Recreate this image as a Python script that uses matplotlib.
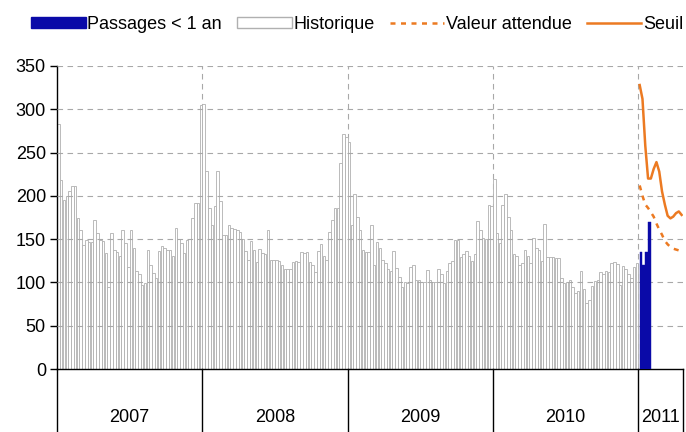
import numpy as np
import matplotlib
matplotlib.use("Agg")
import matplotlib.pyplot as plt
import matplotlib.transforms as mtransforms
from matplotlib.patches import Patch
from matplotlib.lines import Line2D

plt.rcParams['font.family'] = ['Liberation Sans', 'DejaVu Sans']

# weekly counts
years = ['2007', '2008', '2009', '2010', '2011']
hist_2007 = [283, 218, 195, 200, 206, 211, 211, 174, 160, 143, 149, 147, 147, 172, 157, 149,
             148, 134, 95, 157, 138, 135, 130, 161, 145, 118, 161, 140, 113, 110, 97, 99,
             138, 120, 111, 105, 136, 142, 140, 138, 137, 131, 163, 150, 146, 134, 149, 150,
             174, 192, 192, 305]
hist_2008 = [306, 229, 186, 166, 188, 229, 194, 155, 155, 166, 163, 162, 161, 158, 150, 136,
             126, 148, 138, 124, 139, 134, 133, 161, 126, 126, 126, 125, 120, 116, 116, 116,
             124, 125, 124, 135, 134, 135, 124, 120, 112, 136, 144, 130, 126, 158, 172, 186,
             186, 238, 272, 268]
hist_2009 = [262, 166, 202, 176, 160, 137, 135, 135, 166, 120, 147, 140, 126, 122, 116, 113,
             136, 117, 106, 95, 100, 99, 118, 120, 103, 103, 101, 101, 114, 103, 101, 101,
             115, 110, 99, 113, 123, 125, 149, 149, 129, 133, 136, 130, 125, 133, 171, 161,
             151, 150, 190, 188]
hist_2010 = [219, 157, 146, 190, 202, 176, 161, 133, 130, 120, 122, 138, 131, 123, 151, 140,
             138, 125, 168, 129, 129, 129, 128, 128, 105, 99, 100, 103, 95, 88, 90, 113,
             92, 76, 80, 96, 102, 103, 112, 110, 113, 112, 123, 124, 121, 97, 119, 115,
             110, 105, 118, 123]
weeks_2011 = 16
passages_2011 = [135, 120, 135, 170]
attendu_2011 = [212, 200, 190, 186, 181, 176, 168, 161, 155, 148, 144, 141, 139, 138, 137, 137]
seuil_2011 = [328, 312, 258, 220, 220, 231, 239, 228, 205, 190, 177, 174, 176, 180, 182, 178]

hist = hist_2007 + hist_2008 + hist_2009 + hist_2010
year_sizes = [len(hist_2007), len(hist_2008), len(hist_2009), len(hist_2010), weeks_2011]
n_total = sum(year_sizes)
start_2011 = len(hist)

blue = '#0a0aa8'
orange = '#ec7a22'
grid_c = '#a8a8a8'
fs = 13

fig = plt.figure(figsize=(6.86, 4.32), dpi=100)
ax = fig.add_axes([57 / 686, 63 / 432, 626 / 686, 303 / 432])

bounds = np.cumsum([0] + year_sizes) - 0.5

# year separators inside the plot
for b in bounds[1:-1]:
    ax.axvline(b, color=grid_c, lw=0.8, ls=(0, (5, 4)), zorder=1)

ax.bar(np.arange(len(hist)), hist, width=0.9, color='white', edgecolor='#b0b0b0',
       linewidth=0.6, zorder=2)
ax.bar(start_2011 + np.arange(len(passages_2011)), passages_2011, width=1.0, align='edge',
       color=blue, edgecolor=blue, linewidth=0.3, zorder=4)

x11 = start_2011 + np.arange(weeks_2011)
dash = (0, (2, 2.2))
ax.plot(x11, attendu_2011, color=orange, lw=1.8, ls=dash, zorder=5)
ax.plot(x11, seuil_2011, color=orange, lw=1.8, zorder=5)

ax.set_ylim(0, 350)
ax.set_xlim(-0.5, n_total - 0.5)
ax.set_yticks(np.arange(0, 351, 50))
for yv in range(50, 351, 50):
    ax.axhline(yv, color=grid_c, lw=0.8, ls=(0, (5, 4)), zorder=3)

ax.set_xticks([])
ax.tick_params(axis='y', length=5, width=1, pad=3, labelsize=fs, colors='black')
for s in ['top', 'right']:
    ax.spines[s].set_visible(False)
ax.spines['left'].set_linewidth(1)
ax.spines['bottom'].set_linewidth(1)

# category box under the axis
trans = mtransforms.blended_transform_factory(ax.transData, ax.transAxes)
for b in bounds:
    ax.plot([b, b], [0, -0.22], color='black', lw=1, transform=trans, clip_on=False)
for i, y in enumerate(years):
    ax.text((bounds[i] + bounds[i + 1]) / 2, -0.16, y, transform=trans,
            ha='center', va='center', fontsize=fs)

handles = [
    Patch(facecolor=blue, edgecolor=blue),
    Patch(facecolor='white', edgecolor='#b0b0b0'),
    Line2D([], [], color=orange, lw=1.8, ls=dash),
    Line2D([], [], color=orange, lw=1.8),
]
labels = ['Passages < 1 an', 'Historique', 'Valeur attendue', 'Seuil']
fig.legend(handles, labels, loc='center', bbox_to_anchor=(0.521, 0.943), ncol=4,
           frameon=False, fontsize=fs, handlelength=3.0, handleheight=0.55,
           handletextpad=0.1, columnspacing=0.85, borderaxespad=0)

fig.savefig('out.png', dpi=100)
